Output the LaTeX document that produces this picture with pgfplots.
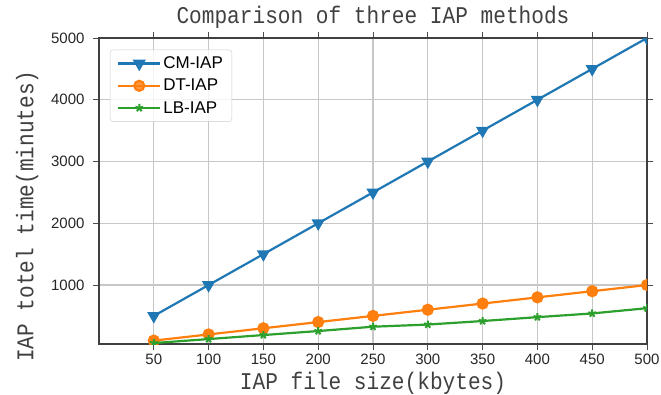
\documentclass[border=0pt]{standalone}
\usepackage{fontspec}
\setmainfont{Liberation Sans}
\newfontfamily\monof[FakeStretch=0.88]{Liberation Mono}
\usepackage{pgfplots}
\pgfplotsset{compat=1.18}
\definecolor{cA}{RGB}{31,119,180}
\definecolor{cB}{RGB}{255,127,14}
\definecolor{cC}{RGB}{44,160,44}
\begin{document}
\begin{tikzpicture}
\useasboundingbox (-99pt,-50pt) rectangle (562pt,344pt);
\begin{axis}[
  at={(0pt,0pt)}, anchor=south west,
  scale only axis, width=548pt, height=306pt,
  xmin=0, xmax=500, ymin=45, ymax=5000,
  xtick={50,100,...,500}, ytick={1000,2000,3000,4000,5000},
  scaled y ticks=false, scaled x ticks=false,
  /pgf/number format/assume math mode=true,
  /pgf/number format/set thousands separator={},
  ticklabel style={font=\fontsize{15}{15}\selectfont, text=black!85},
  yticklabel style={xshift=-5pt},
  tick align=outside, major tick length=6pt,
  tick style={black!70, line width=0.9pt},
  axis line style={black!75, line width=1.3pt},
  grid=major, major grid style={black!22, line width=1.2pt},
  clip marker paths=true,
  title={Comparison of three IAP methods},
  title style={font=\monof\fontsize{24}{24}\selectfont, text=black!75, at={(axis description cs:0.5,1)}, anchor=base, yshift=9pt},
  xlabel={IAP file size(kbytes)},
  xlabel style={font=\monof\fontsize{24}{24}\selectfont, text=black!75, at={(axis description cs:0.5,0)}, anchor=base, yshift=-45pt},
  ylabel={IAP totel time(minutes)},
  ylabel style={font=\monof\fontsize{24}{24}\selectfont, text=black!75, at={(axis description cs:-0.131,0.418)}, anchor=center, rotate=0},
  legend style={at={(axis description cs:0.02,0.962)}, anchor=north west, draw=black!20, rounded corners=3pt, fill=white, fill opacity=0.8, text opacity=1, font=\fontsize{17}{19}\selectfont, row sep=5pt, inner xsep=7pt, inner ysep=5pt},
  legend cell align=left,
  legend image code/.code={\draw[mark repeat=2,mark phase=2,#1] plot coordinates {(0pt,0pt) (21pt,0pt) (42pt,0pt)};},
]
\addplot[cA, line width=2.2pt, mark=triangle*, mark size=5.5pt, mark options={rotate=180, solid}] coordinates {
(50,500)(100,1000)(150,1500)(200,2000)(250,2500)(300,3000)(350,3500)(400,4000)(450,4500)(500,5000)};
\addlegendentry{CM-IAP}
\addplot[cB, line width=2.2pt, mark=*, mark size=5pt, mark options={solid}] coordinates {
(50,100)(100,200)(150,300)(200,400)(250,500)(300,600)(350,700)(400,800)(450,900)(500,1000)};
\addlegendentry{DT-IAP}
\addplot[cC, line width=2.2pt, mark=star, mark size=4pt, mark options={solid, line width=2pt}] coordinates {
(50,60)(100,125)(150,190)(200,255)(250,325)(300,360)(350,417)(400,480)(450,540)(500,625)};
\addlegendentry{LB-IAP}
\end{axis}
\end{tikzpicture}
\end{document}
